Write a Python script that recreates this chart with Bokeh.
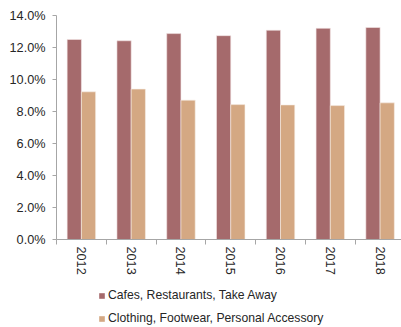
import math
from bokeh.plotting import figure
from bokeh.layouts import column
from bokeh.models import (ColumnDataSource, Range1d, FixedTicker, Legend, LegendItem)
from bokeh.transform import dodge
from bokeh.embed import file_html
from bokeh.resources import INLINE

years = ["2012", "2013", "2014", "2015", "2016", "2017", "2018"]
cafes = [12.50, 12.42, 12.87, 12.74, 13.08, 13.20, 13.25]
clothing = [9.23, 9.40, 8.71, 8.43, 8.41, 8.37, 8.54]
series_names = ["Cafes, Restaurants, Take Away", "Clothing, Footwear, Personal Accessory"]
y_ticks = [0, 2, 4, 6, 8, 10, 12, 14]

idx = list(range(len(years)))
src = ColumnDataSource(dict(x=idx, cafes=cafes, clothing=clothing))

FONT = "Liberation Sans"
c1 = "#A56A6C"
c2 = "#D4A883"

p = figure(width=401, height=282, output_backend="svg", toolbar_location=None,
           x_range=Range1d(-0.5, 6.43), y_range=Range1d(0, 14),
           min_border_left=56, min_border_right=0, min_border_top=15, min_border_bottom=43)
p.outline_line_color = None
p.xgrid.visible = False
p.ygrid.visible = False

bw = 0.286
r1 = p.vbar(x=dodge("x", -bw / 2, range=p.x_range), top="cafes", width=bw, source=src,
            fill_color=c1, line_color="#F3E6E6", line_width=0.6)
r2 = p.vbar(x=dodge("x", bw / 2, range=p.x_range), top="clothing", width=bw, source=src,
            fill_color=c2, line_color="#F7EEE6", line_width=0.6)

# y axis
p.yaxis.ticker = FixedTicker(ticks=y_ticks)
p.yaxis.major_label_overrides = {t: f"{t:.1f}%" for t in y_ticks}
p.yaxis.axis_line_color = "#A6A6A6"
p.yaxis.major_tick_line_color = "#A6A6A6"
p.yaxis.major_tick_in = 0
p.yaxis.major_tick_out = 4
p.yaxis.minor_tick_line_color = None
p.yaxis.major_label_text_font = FONT
p.yaxis.major_label_text_font_size = "12.7px"
p.yaxis.major_label_text_color = "#262626"
p.yaxis.major_label_standoff = 7

# x axis
p.xaxis.ticker = FixedTicker(ticks=idx, minor_ticks=[i - 0.5 for i in idx] + [len(idx) - 0.5])
p.xaxis.major_label_overrides = {i: y for i, y in zip(idx, years)}
p.xaxis.major_label_orientation = -math.pi / 2
p.xaxis.axis_line_color = "#A6A6A6"
p.xaxis.major_tick_line_color = None
p.xaxis.major_tick_in = 0
p.xaxis.major_tick_out = 0
p.xaxis.minor_tick_line_color = "#A6A6A6"
p.xaxis.minor_tick_in = 0
p.xaxis.minor_tick_out = 5
p.xaxis.major_label_text_font = FONT
p.xaxis.major_label_text_font_size = "12.7px"
p.xaxis.major_label_text_color = "#262626"
p.xaxis.major_label_standoff = 2

# legend in a separate strip below the chart (proxy glyphs lie outside the visible range)
q = figure(width=401, height=45, output_backend="svg", toolbar_location=None,
           x_range=Range1d(0, 1), y_range=Range1d(0, 1),
           min_border_left=0, min_border_right=0, min_border_top=0, min_border_bottom=0)
q.axis.visible = False
q.grid.visible = False
q.outline_line_color = None
proxy = ColumnDataSource(dict(x=[-5], top=[-5]))
g1 = q.vbar(x="x", top="top", width=0.1, source=proxy, fill_color=c1, line_color=None)
g2 = q.vbar(x="x", top="top", width=0.1, source=proxy, fill_color=c2, line_color=None)

legend = Legend(items=[LegendItem(label=series_names[0], renderers=[g1]),
                       LegendItem(label=series_names[1], renderers=[g2])],
                location=(42, 2), orientation="vertical",
                padding=0, margin=0, spacing=9,
                glyph_width=7, glyph_height=7, label_standoff=3, label_height=14,
                label_text_font=FONT, label_text_font_size="12.2px",
                label_text_color="#262626",
                border_line_color=None, background_fill_alpha=0)
q.add_layout(legend, "center")

layout = column(p, q, spacing=0)
open("out.html", "w").write(file_html(layout, INLINE))
